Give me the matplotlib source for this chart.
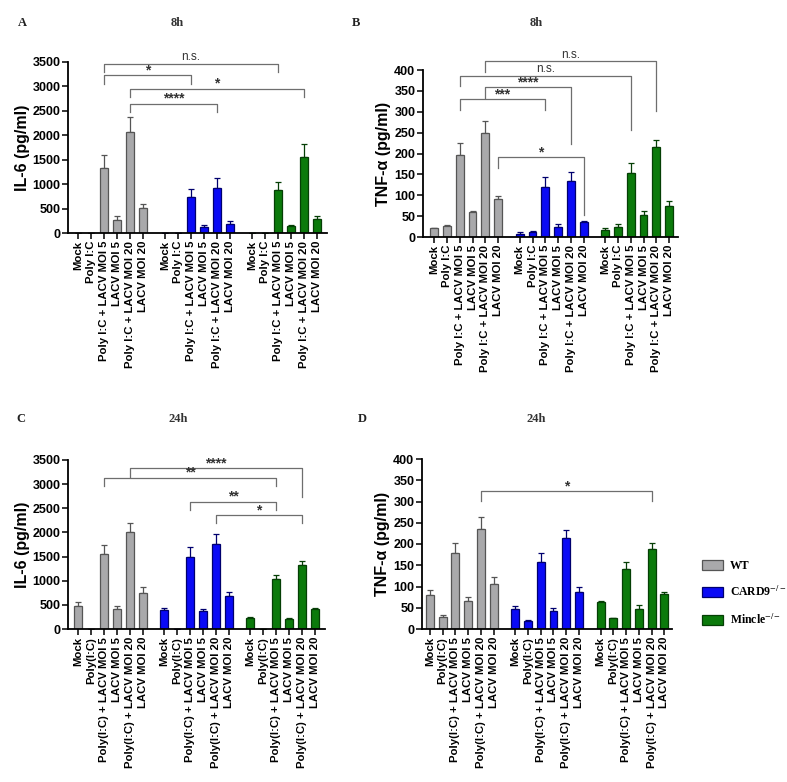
import matplotlib
matplotlib.use('Agg')
import matplotlib.pyplot as plt
from matplotlib.patches import Patch

plt.rcParams['mathtext.fontset'] = 'stix'

# ---------------- data ----------------
groups = ['WT', 'CARD9$^{-/-}$', 'Mincle$^{-/-}$']
labels_8h = ['Mock', 'Poly I:C', 'Poly I:C + LACV MOI 5', 'LACV MOI 5',
             'Poly I:C + LACV MOI 20', 'LACV MOI 20']
labels_24h = ['Mock', 'Poly(I:C)', 'Poly(I:C) + LACV MOI 5', 'LACV MOI 5',
              'Poly(I:C) + LACV MOI 20', 'LACV MOI 20']

# Panel A: IL-6, 8h
il6_8h_wt = [0, 10, 1340, 270, 2075, 505]
il6_8h_wt_err = [0, 0, 260, 70, 290, 88]
il6_8h_card9 = [0, 0, 735, 122, 918, 183]
il6_8h_card9_err = [0, 0, 170, 48, 205, 68]
il6_8h_mincle = [0, 8, 883, 136, 1550, 292]
il6_8h_mincle_err = [0, 0, 170, 20, 270, 48]

# Panel B: TNF-a, 8h
tnf_8h_wt = [20.5, 27, 196, 59, 250, 91]
tnf_8h_wt_err = [1.5, 1.5, 30, 2.5, 29, 8]
tnf_8h_card9 = [8, 11, 120, 25, 135, 36]
tnf_8h_card9_err = [3, 3, 23, 5, 20, 3]
tnf_8h_mincle = [17.5, 25, 154, 53, 216, 75]
tnf_8h_mincle_err = [4, 6, 24, 9, 16, 11]

# Panel C: IL-6, 24h
il6_24h_wt = [466, 10, 1562, 410, 2010, 741]
il6_24h_wt_err = [103, 0, 179, 56, 193, 125]
il6_24h_card9 = [390, 0, 1500, 383, 1755, 686]
il6_24h_card9_err = [55, 0, 207, 27, 207, 90]
il6_24h_mincle = [238, 0, 1031, 217, 1334, 417]
il6_24h_mincle_err = [14, 0, 83, 7, 76, 14]

# Panel D: TNF-a, 24h
tnf_24h_wt = [80, 28, 178, 66.5, 236, 106]
tnf_24h_wt_err = [11.6, 5, 25, 9.5, 28, 17]
tnf_24h_card9 = [48, 18, 158, 43, 215, 88]
tnf_24h_card9_err = [7, 4, 20, 7, 19, 11]
tnf_24h_mincle = [62.5, 26, 142, 48, 188, 83]
tnf_24h_mincle_err = [4, 1, 15.5, 9, 14, 5]

# significance brackets: (left bar, right bar, top y, left leg end, right leg end, label)
brackets_A = [(2, 14, 3466, 3296, 3296, 'n.s.'),
              (2, 8, 3228, 3058, 3058, '*'),
              (4, 16, 2957, 2786, 2786, '*'),
              (4, 10, 2650, 2480, 2480, '****')]
brackets_B = [(4, 16, 421, 396, 302, 'n.s.'),
              (2, 14, 386, 362, 257, 'n.s.'),
              (4, 10, 358.6, 332, 222, '****'),
              (2, 8, 330, 304, 304, '***'),
              (5, 11, 191, 165, 53, '*')]
brackets_C = [(4, 16, 3328, 3155, 2741, '****'),
              (2, 14, 3134, 2962, 2962, '**'),
              (8, 14, 2638, 2466, 2466, '**'),
              (10, 16, 2362, 2190, 2190, '*')]
brackets_D = [(4, 16, 324.6, 302, 302, '*')]

# ---------------- style ----------------
fills = ['#a9a9ab', '#0a0af5', '#0b7a0b']
edges = ['#555555', '#00006e', '#053f05']
W, H = 787, 782
sans = 'Liberation Sans'
serif = 'Liberation Serif'

fig = plt.figure(figsize=(W / 100, H / 100), dpi=100)


def ax_at(x0, x1, ybot, ytop):
    return fig.add_axes([x0 / W, 1 - ybot / H, (x1 - x0) / W, (ybot - ytop) / H])


def panel(ax, series, errs, ticklabels, ymax, ystep, ylabel, brackets, xlim):
    gap = 6.7
    pos_all = []
    for g in range(3):
        pos = [g * gap + i for i in range(6)]
        pos_all += pos
        ax.bar(pos, series[g], width=0.62, color=fills[g], edgecolor=edges[g],
               linewidth=0.9, zorder=2)
        ax.errorbar(pos, series[g], yerr=[[0] * 6, errs[g]], fmt='none',
                    ecolor=edges[g], elinewidth=0.9, capsize=2.2, capthick=0.9, zorder=1)
    ax.set_xlim(*xlim)
    ax.set_ylim(0, ymax)
    ax.set_xticks(pos_all)
    ax.set_xticklabels(ticklabels * 3, rotation=90, fontsize=8.2, fontweight='bold',
                       family=sans)
    ax.set_yticks(range(0, ymax + 1, ystep))
    ax.set_yticklabels([str(v) for v in range(0, ymax + 1, ystep)], fontsize=9,
                       fontweight='bold', family=sans)
    ax.set_ylabel(ylabel, fontsize=11.5, fontweight='bold', family=sans, labelpad=2)
    for s in ['top', 'right']:
        ax.spines[s].set_visible(False)
    for s in ['left', 'bottom']:
        ax.spines[s].set_linewidth(1.3)
    ax.tick_params(axis='both', direction='out', length=4, width=1.1, pad=1.5)
    for (i1, i2, yt, y1, y2, lab) in brackets:
        x1, x2 = pos_all[i1], pos_all[i2]
        ax.plot([x1, x1, x2, x2], [y1, yt, yt, y2], color='#6e6e6e', lw=0.9,
                clip_on=False, zorder=3)
        if lab.startswith('*'):
            ax.text((x1 + x2) / 2, yt - ymax * 0.012, lab, ha='center', va='bottom',
                    fontsize=10, fontweight='bold', color='#333333', family=sans,
                    clip_on=False)
        else:
            ax.text((x1 + x2) / 2, yt + ymax * 0.004, lab, ha='center', va='bottom',
                    fontsize=8.5, color='#333333', family=sans, clip_on=False)


axA = ax_at(68, 327, 233, 62)
panel(axA, [il6_8h_wt, il6_8h_card9, il6_8h_mincle],
      [il6_8h_wt_err, il6_8h_card9_err, il6_8h_mincle_err],
      labels_8h, 3500, 500, 'IL-6 (pg/ml)', brackets_A, (-0.77, 19.15))

axB = ax_at(423, 678, 237, 70)
panel(axB, [tnf_8h_wt, tnf_8h_card9, tnf_8h_mincle],
      [tnf_8h_wt_err, tnf_8h_card9_err, tnf_8h_mincle_err],
      labels_8h, 400, 50, 'TNF-\u03b1 (pg/ml)', brackets_B, (-0.88, 19.1))

axC = ax_at(68, 325, 629, 460)
panel(axC, [il6_24h_wt, il6_24h_card9, il6_24h_mincle],
      [il6_24h_wt_err, il6_24h_card9_err, il6_24h_mincle_err],
      labels_24h, 3500, 500, 'IL-6 (pg/ml)', brackets_C, (-0.8, 19.2))

axD = ax_at(422, 672, 629, 459)
panel(axD, [tnf_24h_wt, tnf_24h_card9, tnf_24h_mincle],
      [tnf_24h_wt_err, tnf_24h_card9_err, tnf_24h_mincle_err],
      labels_24h, 400, 50, 'TNF-\u03b1 (pg/ml)', brackets_D, (-0.62, 19.0))

# panel letters and titles
for (x, y, t) in [(22, 23, 'A'), (356, 23, 'B'), (21, 419, 'C'), (362, 419, 'D')]:
    fig.text(x / W, 1 - y / H, t, ha='center', va='center', fontsize=9,
             fontweight='bold', family=serif, color='#222222')
for (x, y, t) in [(177, 23, '8h'), (536, 23, '8h'), (178, 419, '24h'), (536, 419, '24h')]:
    fig.text(x / W, 1 - y / H, t, ha='center', va='center', fontsize=9,
             fontweight='bold', family=serif, color='#333333')

handles = [Patch(facecolor=fills[g], edgecolor=edges[g], linewidth=0.9) for g in range(3)]
fig.legend(handles, groups, loc='upper left', bbox_to_anchor=(702 / W, 1 - 560 / H),
           frameon=False, handlelength=1.75, handleheight=0.95, labelspacing=1.1,
           handletextpad=0.6, borderpad=0, borderaxespad=0,
           prop={'family': serif, 'weight': 'bold', 'size': 8.5})

fig.savefig('out.png', dpi=100)
